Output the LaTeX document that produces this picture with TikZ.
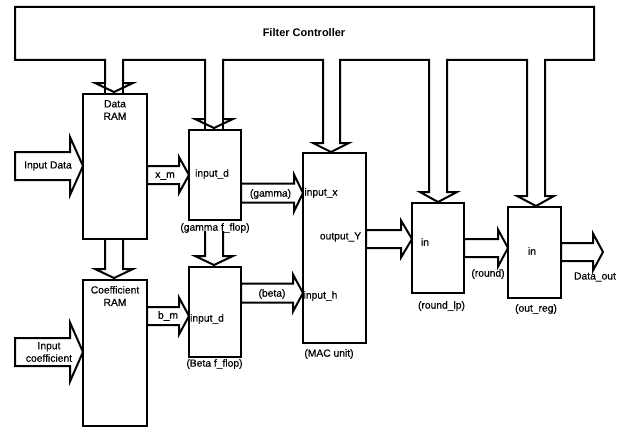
\documentclass[tikz,border=0pt]{standalone}
\usepackage{fontspec}
\setmainfont{Liberation Sans}
\newfontfamily\lblfont[FakeBold=0.4]{Liberation Sans}
\usetikzlibrary{calc}
\tikzset{
  ln/.style={draw=black, line width=2pt, line join=miter},
  boxn/.style={ln, rectangle, inner sep=0pt, outer sep=0pt},
  lbl/.style={inner sep=0pt, font=\lblfont\fontsize{10.3}{12.5}\selectfont, align=center},
}
% horizontal block arrow: #1 source point (x used), #2 tip, #3 shaft half, #4 head half, #5 head length
\newcommand\hblk[5]{%
  \path let \p1=(#1), \p2=(#2) in
    [ln] (\x1,\y2+#3pt) -- (\x2-#5pt,\y2+#3pt) -- (\x2-#5pt,\y2+#4pt) -- (\p2)
    -- (\x2-#5pt,\y2-#4pt) -- (\x2-#5pt,\y2-#3pt) -- (\x1,\y2-#3pt) -- cycle;}
% vertical (downward) block arrow, open at its top
\newcommand\vblk[5]{%
  \path let \p1=(#1), \p2=(#2) in
    [ln] (\x2-#3pt,\y1) -- (\x2-#3pt,\y2+#5pt) -- (\x2-#4pt,\y2+#5pt) -- (\p2)
    -- (\x2+#4pt,\y2+#5pt) -- (\x2+#3pt,\y2+#5pt) -- (\x2+#3pt,\y1);}
\begin{document}
\begin{tikzpicture}[x=1pt,y=-1pt]
\useasboundingbox (0,0) rectangle (618,428);
\fill[white] (0,0) rectangle (618,428);

% boxes
\node[boxn, minimum width=64, minimum height=145] (dram) at (115,166.5) {};
\node[boxn, minimum width=64, minimum height=146] (cram) at (115,353) {};
\node[boxn, minimum width=52, minimum height=90] (gflop) at (215,175) {};
\node[boxn, minimum width=52, minimum height=90] (bflop) at (215,312) {};
\node[boxn, minimum width=63, minimum height=190] (mac) at (334.5,248) {};
\node[boxn, minimum width=52, minimum height=90] (rlp) at (438,248) {};
\node[boxn, minimum width=53, minimum height=91] (oreg) at (534.5,252.5) {};

% filter controller with its five drops
\draw[ln] (15,7) -- (594,7) -- (594,60) -- (545,60) -- (545,196) -- (554,196) -- (536,206)
  -- (517,196) -- (527,196) -- (527,60) -- (447,60) -- (447,192) -- (457,192) -- (438,202)
  -- (420,192) -- (429,192) -- (429,60) -- (340,60) -- (340,143) -- (349,143) -- (331,152)
  -- (313,143) -- (323,143) -- (323,60) -- (223,60) -- (223,119) -- (233,119) -- (214,128)
  -- (195,119) -- (205,119) -- (205,60) -- (123,60) -- (123,83) -- (133,83) -- (114,92)
  -- (95,83) -- (105,83) -- (105,60) -- (15,60) -- cycle;
\draw[ln] (105,83) -- (105,94) (123,83) -- (123,94);
\draw[ln] (205,119) -- (205,130) (223,119) -- (223,130);
\node[inner sep=0pt, font=\fontsize{11}{13}\selectfont\bfseries] (fc) at (304,33) {Filter Controller};

% input arrows
\coordinate (inD) at (15,166);
\coordinate (inC) at (15,352);
\hblk{inD}{83,166}{14}{29}{13}
\hblk{inC}{83,352}{14}{29.5}{13}

% data path arrows
\hblk{dram.east}{gflop.west |- 0,175}{9}{18}{10}
\hblk{cram.east}{bflop.west |- 0,316}{9}{18.5}{10}
\hblk{gflop.east}{mac.west |- 0,193}{9.5}{18.5}{9}
\hblk{bflop.east}{mac.west |- 0,293}{9.5}{18.5}{10}
\hblk{mac.east}{rlp.west |- 0,239}{9}{18.5}{11}
\hblk{rlp.east}{oreg.west |- 0,248}{9}{18.5}{10}
\coordinate (dout) at (603,252);
\hblk{oreg.east}{dout}{9}{18.5}{10}

\vblk{dram.south}{114,278}{9}{19}{9}
\coordinate (gb) at (214,231);
\vblk{gb}{214,265}{9}{19}{9}

% labels
\node[lbl] (t1) at (115,110) {Data\\RAM};
\node[lbl] (t2) at (115,296) {Coefficient\\RAM};
\node[lbl] (t3) at (48,166) {Input Data};
\node[lbl] (t4) at (49,352) {Input\\coefficient};
\node[lbl] (t5) at (165,176) {x\_m};
\node[lbl] (t6) at (168,316) {b\_m};
\node[lbl] (t7) at (212,174) {input\_d};
\node[lbl] (t8) at (207,319) {input\_d};
\node[lbl] (t9) at (215,228) {(gamma f\_flop)};
\node[lbl] (t10) at (214.5,364) {(Beta f\_flop)};
\node[lbl] (t11) at (270.5,194) {(gamma)};
\node[lbl] (t12) at (272,294) {(beta)};
\node[lbl] (t13) at (321,193) {input\_x};
\node[lbl] (t14) at (320.5,296) {input\_h};
\node[lbl] (t15) at (340.5,237) {output\_Y};
\node[lbl] (t16) at (329,354) {(MAC unit)};
\node[lbl] (t17) at (425,242) {in};
\node[lbl] (t18) at (532,251) {in};
\node[lbl] (t19) at (441.5,306) {(round\_lp)};
\node[lbl] (t20) at (488,274) {(round)};
\node[lbl] (t21) at (536,309) {(out\_reg)};
\node[lbl] (t22) at (595,277) {Data\_out};
\end{tikzpicture}
\end{document}
